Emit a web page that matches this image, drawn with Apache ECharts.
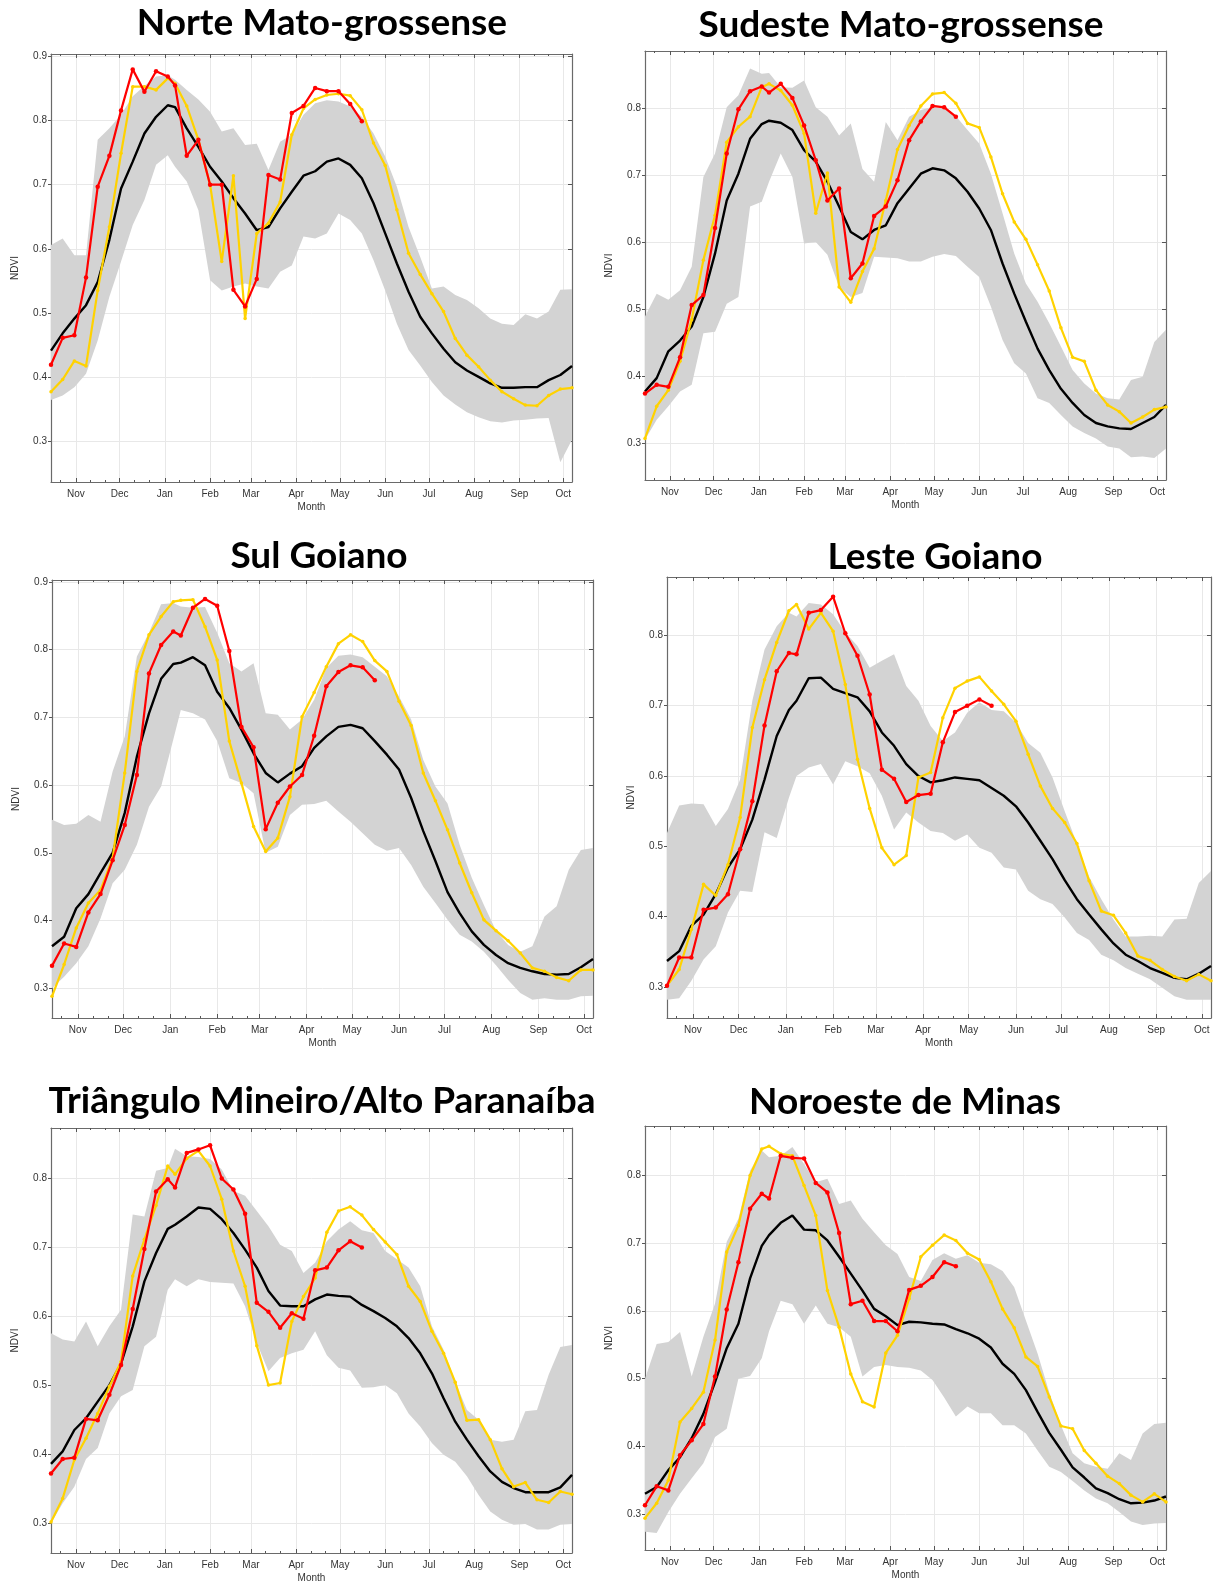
<!DOCTYPE html>
<html><head><meta charset="utf-8">
<script src="https://cdn.jsdelivr.net/npm/echarts@6/dist/echarts.min.js"></script>
<style>html,body{margin:0;padding:0;background:#fff}#c{width:1213px;height:1588px}</style>
</head><body><div id="c"></div>
<script>
// x positions: days since Oct 1
const days = [14,22,30,38,46,54,62,70,78,86,94,99,107,115,123,131,139,147,155,163,171,179,187,195,203,211,219,227,235,243,251,259,267,275,283,291,299,307,315,323,331,339,347,355,363,371];
const monthTicks = [31,61,92,123,151,182,212,243,273,304,335,365];
const monthNames = ['Nov','Dec','Jan','Feb','Mar','Apr','May','Jun','Jul','Aug','Sep','Oct'];
// minor ticks: 11th and 21st of each month
const minorTicks = [20,41,51,71,81,102,112,133,143,161,171,192,202,222,232,253,263,283,293,314,324,345,355];
const titles = ['Norte Mato-grossense','Sudeste Mato-grossense','Sul Goiano','Leste Goiano','Triângulo Mineiro/Alto Paranaíba','Noroeste de Minas'];
const yTicks9 = [0.3,0.4,0.5,0.6,0.7,0.8,0.9];
const yTicks8 = [0.3,0.4,0.5,0.6,0.7,0.8];

const p1Upper = [0.606,0.616,0.590,0.590,0.770,0.788,0.809,0.838,0.854,0.869,0.871,0.864,0.848,0.833,0.814,0.783,0.788,0.762,0.764,0.723,0.767,0.778,0.809,0.827,0.832,0.830,0.822,0.806,0.780,0.744,0.697,0.634,0.587,0.538,0.541,0.528,0.520,0.507,0.491,0.483,0.481,0.498,0.491,0.502,0.536,0.537];
const p1Lower = [0.364,0.371,0.384,0.405,0.457,0.525,0.580,0.637,0.676,0.731,0.746,0.728,0.705,0.660,0.551,0.535,0.541,0.546,0.541,0.538,0.564,0.574,0.619,0.616,0.624,0.655,0.645,0.624,0.582,0.535,0.483,0.442,0.418,0.392,0.371,0.357,0.345,0.337,0.331,0.329,0.332,0.333,0.335,0.336,0.267,0.302];
const p1Mean = [0.441,0.468,0.491,0.512,0.548,0.614,0.694,0.736,0.780,0.806,0.824,0.821,0.788,0.759,0.728,0.705,0.679,0.655,0.629,0.634,0.663,0.689,0.714,0.721,0.736,0.741,0.731,0.710,0.671,0.624,0.577,0.533,0.494,0.468,0.444,0.423,0.410,0.400,0.390,0.383,0.383,0.384,0.384,0.395,0.403,0.417];
const p1Yellow = [0.377,0.396,0.425,0.417,0.535,0.634,0.749,0.853,0.853,0.848,0.866,0.858,0.823,0.770,0.700,0.580,0.714,0.491,0.624,0.640,0.673,0.778,0.819,0.833,0.840,0.842,0.839,0.817,0.765,0.730,0.661,0.593,0.560,0.530,0.502,0.460,0.434,0.416,0.395,0.377,0.366,0.356,0.355,0.371,0.381,0.383];
const p1Red = [0.419,0.461,0.465,0.555,0.697,0.745,0.816,0.880,0.845,0.877,0.869,0.855,0.745,0.770,0.700,0.700,0.536,0.510,0.553,0.715,0.708,0.812,0.823,0.851,0.846,0.846,0.826,0.799];

const p2Upper = [0.489,0.523,0.514,0.528,0.563,0.697,0.732,0.801,0.819,0.859,0.851,0.852,0.831,0.830,0.841,0.801,0.787,0.759,0.777,0.709,0.690,0.779,0.752,0.787,0.797,0.802,0.799,0.788,0.767,0.747,0.702,0.643,0.583,0.538,0.511,0.479,0.444,0.409,0.389,0.374,0.367,0.365,0.394,0.399,0.451,0.469];
const p2Lower = [0.305,0.335,0.355,0.377,0.387,0.464,0.466,0.508,0.518,0.653,0.660,0.690,0.732,0.697,0.598,0.600,0.581,0.533,0.518,0.524,0.578,0.577,0.576,0.571,0.571,0.578,0.582,0.579,0.563,0.548,0.504,0.454,0.419,0.404,0.367,0.360,0.342,0.325,0.315,0.307,0.295,0.292,0.279,0.280,0.278,0.292];
const p2Mean = [0.377,0.397,0.437,0.453,0.474,0.518,0.583,0.662,0.702,0.754,0.776,0.781,0.778,0.767,0.737,0.720,0.690,0.653,0.615,0.604,0.618,0.625,0.658,0.680,0.702,0.710,0.707,0.695,0.675,0.650,0.618,0.568,0.523,0.481,0.441,0.409,0.381,0.360,0.342,0.330,0.325,0.322,0.321,0.330,0.339,0.357];
const p2Yellow = [0.307,0.355,0.379,0.422,0.484,0.573,0.640,0.749,0.772,0.787,0.831,0.836,0.826,0.804,0.762,0.643,0.703,0.533,0.510,0.556,0.590,0.662,0.738,0.774,0.803,0.821,0.823,0.807,0.777,0.771,0.727,0.672,0.630,0.604,0.566,0.527,0.472,0.428,0.422,0.379,0.357,0.347,0.330,0.339,0.350,0.354];
const p2Red = [0.374,0.387,0.384,0.428,0.506,0.521,0.621,0.732,0.798,0.825,0.832,0.823,0.836,0.815,0.774,0.722,0.662,0.680,0.546,0.568,0.639,0.653,0.692,0.752,0.780,0.803,0.801,0.787];

const p3Upper = [0.549,0.541,0.543,0.556,0.546,0.620,0.672,0.790,0.825,0.867,0.869,0.864,0.862,0.863,0.825,0.780,0.768,0.780,0.706,0.704,0.682,0.697,0.726,0.773,0.791,0.793,0.789,0.775,0.761,0.731,0.697,0.637,0.598,0.573,0.512,0.463,0.423,0.385,0.364,0.354,0.362,0.406,0.421,0.475,0.504,0.507];
const p3Lower = [0.300,0.317,0.337,0.362,0.403,0.455,0.475,0.512,0.568,0.598,0.667,0.711,0.706,0.697,0.665,0.610,0.603,0.588,0.500,0.509,0.556,0.571,0.572,0.577,0.561,0.546,0.529,0.512,0.503,0.507,0.482,0.450,0.426,0.401,0.379,0.369,0.354,0.334,0.312,0.293,0.283,0.285,0.283,0.283,0.288,0.289];
const p3Mean = [0.362,0.376,0.418,0.439,0.470,0.500,0.559,0.642,0.706,0.757,0.779,0.781,0.789,0.777,0.738,0.714,0.682,0.647,0.618,0.604,0.617,0.628,0.655,0.672,0.686,0.689,0.684,0.665,0.645,0.623,0.581,0.532,0.488,0.442,0.411,0.384,0.364,0.349,0.337,0.330,0.325,0.321,0.320,0.321,0.331,0.343];
const p3Yellow = [0.288,0.335,0.389,0.426,0.445,0.492,0.618,0.768,0.822,0.849,0.871,0.873,0.874,0.834,0.785,0.665,0.603,0.539,0.502,0.522,0.583,0.701,0.737,0.775,0.809,0.822,0.812,0.784,0.768,0.724,0.688,0.618,0.577,0.534,0.485,0.441,0.401,0.385,0.370,0.352,0.330,0.325,0.316,0.311,0.327,0.327];
const p3Red = [0.333,0.366,0.361,0.412,0.439,0.489,0.541,0.615,0.765,0.807,0.827,0.821,0.862,0.875,0.865,0.798,0.686,0.656,0.535,0.574,0.598,0.615,0.673,0.746,0.767,0.777,0.774,0.755];

const p4Upper = [0.519,0.558,0.561,0.560,0.529,0.553,0.595,0.707,0.780,0.813,0.832,0.827,0.846,0.844,0.830,0.804,0.785,0.754,0.764,0.773,0.728,0.707,0.671,0.650,0.662,0.690,0.705,0.694,0.692,0.676,0.647,0.633,0.598,0.550,0.504,0.457,0.425,0.396,0.372,0.372,0.373,0.372,0.396,0.397,0.448,0.465];
const p4Lower = [0.282,0.284,0.309,0.339,0.358,0.406,0.437,0.435,0.520,0.512,0.569,0.600,0.612,0.617,0.588,0.621,0.614,0.604,0.572,0.524,0.548,0.534,0.522,0.519,0.508,0.517,0.498,0.491,0.470,0.467,0.437,0.425,0.418,0.399,0.377,0.367,0.346,0.338,0.327,0.319,0.311,0.299,0.287,0.282,0.282,0.282];
const p4Mean = [0.337,0.351,0.387,0.403,0.432,0.470,0.496,0.538,0.595,0.657,0.694,0.707,0.739,0.740,0.724,0.718,0.712,0.692,0.662,0.643,0.617,0.600,0.591,0.594,0.598,0.596,0.594,0.583,0.572,0.557,0.534,0.508,0.482,0.452,0.425,0.403,0.382,0.362,0.346,0.337,0.327,0.320,0.313,0.311,0.319,0.330];
const p4Yellow = [0.302,0.325,0.382,0.446,0.430,0.474,0.541,0.669,0.737,0.790,0.835,0.844,0.809,0.832,0.806,0.730,0.624,0.554,0.498,0.474,0.487,0.598,0.605,0.683,0.725,0.735,0.741,0.721,0.702,0.678,0.631,0.586,0.554,0.534,0.504,0.451,0.408,0.402,0.377,0.344,0.338,0.325,0.315,0.309,0.318,0.309];
const p4Red = [0.302,0.342,0.342,0.410,0.413,0.432,0.496,0.564,0.672,0.749,0.775,0.773,0.832,0.836,0.855,0.803,0.771,0.716,0.609,0.596,0.563,0.573,0.575,0.648,0.691,0.700,0.709,0.700];

const p5Upper = [0.575,0.566,0.563,0.592,0.556,0.585,0.609,0.747,0.744,0.810,0.814,0.842,0.831,0.830,0.827,0.812,0.781,0.774,0.752,0.730,0.703,0.694,0.662,0.677,0.708,0.725,0.737,0.724,0.720,0.694,0.682,0.670,0.643,0.585,0.551,0.505,0.464,0.450,0.421,0.418,0.421,0.462,0.464,0.515,0.555,0.558];
const p5Lower = [0.300,0.329,0.353,0.393,0.409,0.459,0.484,0.493,0.556,0.570,0.638,0.653,0.643,0.653,0.649,0.648,0.647,0.614,0.561,0.520,0.539,0.546,0.551,0.578,0.543,0.525,0.521,0.496,0.497,0.500,0.488,0.459,0.440,0.416,0.399,0.389,0.368,0.341,0.317,0.305,0.298,0.299,0.291,0.291,0.298,0.299];
const p5Mean = [0.386,0.404,0.435,0.452,0.476,0.500,0.531,0.585,0.650,0.691,0.726,0.732,0.744,0.757,0.755,0.740,0.720,0.696,0.670,0.636,0.615,0.614,0.614,0.624,0.631,0.629,0.628,0.616,0.607,0.597,0.585,0.568,0.546,0.517,0.481,0.447,0.421,0.397,0.375,0.360,0.351,0.345,0.345,0.345,0.352,0.370];
const p5Yellow = [0.302,0.336,0.392,0.423,0.459,0.498,0.534,0.658,0.711,0.760,0.817,0.805,0.828,0.839,0.817,0.769,0.694,0.643,0.557,0.500,0.503,0.592,0.628,0.655,0.721,0.752,0.758,0.746,0.725,0.707,0.689,0.643,0.621,0.578,0.546,0.504,0.449,0.450,0.421,0.379,0.353,0.359,0.334,0.330,0.346,0.342];
const p5Red = [0.372,0.393,0.395,0.451,0.449,0.486,0.529,0.610,0.697,0.780,0.798,0.786,0.836,0.841,0.847,0.799,0.783,0.748,0.619,0.606,0.583,0.604,0.596,0.666,0.670,0.695,0.708,0.699];

const p6Upper = [0.500,0.551,0.554,0.569,0.503,0.562,0.611,0.702,0.736,0.807,0.837,0.827,0.829,0.842,0.817,0.790,0.795,0.758,0.763,0.736,0.716,0.697,0.684,0.650,0.644,0.675,0.685,0.677,0.682,0.671,0.669,0.659,0.635,0.586,0.537,0.480,0.431,0.390,0.375,0.370,0.367,0.390,0.380,0.419,0.433,0.435];
const p6Lower = [0.274,0.272,0.303,0.330,0.353,0.375,0.414,0.426,0.500,0.504,0.530,0.570,0.615,0.610,0.581,0.608,0.581,0.576,0.562,0.503,0.517,0.520,0.517,0.516,0.512,0.498,0.472,0.444,0.459,0.449,0.449,0.431,0.431,0.419,0.394,0.370,0.362,0.349,0.335,0.323,0.316,0.303,0.289,0.284,0.286,0.287];
const p6Mean = [0.330,0.340,0.365,0.384,0.412,0.448,0.495,0.545,0.581,0.648,0.696,0.712,0.730,0.741,0.720,0.719,0.704,0.680,0.655,0.630,0.603,0.592,0.579,0.584,0.583,0.581,0.580,0.573,0.567,0.559,0.546,0.522,0.507,0.483,0.451,0.420,0.395,0.369,0.354,0.338,0.331,0.322,0.316,0.317,0.320,0.326];
const p6Yellow = [0.294,0.316,0.350,0.436,0.456,0.480,0.557,0.687,0.726,0.800,0.839,0.843,0.832,0.829,0.785,0.741,0.630,0.576,0.507,0.466,0.458,0.538,0.564,0.618,0.680,0.697,0.712,0.704,0.685,0.676,0.643,0.603,0.575,0.532,0.518,0.473,0.430,0.426,0.394,0.375,0.356,0.345,0.328,0.318,0.330,0.318];
const p6Red = [0.313,0.341,0.335,0.387,0.409,0.433,0.503,0.602,0.672,0.751,0.773,0.766,0.829,0.826,0.825,0.789,0.775,0.715,0.610,0.615,0.585,0.585,0.570,0.631,0.637,0.650,0.672,0.666];

const panels = [
  {up:p1Upper, lo:p1Lower, mean:p1Mean, yel:p1Yellow, red:p1Red, yt:yTicks9, ymin:0.236, ymax:0.904, g:{left:51, top:54, width:521, height:428}, tx:322, ty:23},
  {up:p2Upper, lo:p2Lower, mean:p2Mean, yel:p2Yellow, red:p2Red, yt:yTicks8, ymin:0.245, ymax:0.885, g:{left:645, top:51, width:521, height:429}, tx:901, ty:25},
  {up:p3Upper, lo:p3Lower, mean:p3Mean, yel:p3Yellow, red:p3Red, yt:yTicks9, ymin:0.256, ymax:0.903, g:{left:52, top:580, width:541, height:438}, tx:319, ty:556},
  {up:p4Upper, lo:p4Lower, mean:p4Mean, yel:p4Yellow, red:p4Red, yt:yTicks8, ymin:0.256, ymax:0.883, g:{left:667, top:577, width:544, height:441}, tx:935, ty:557},
  {up:p5Upper, lo:p5Lower, mean:p5Mean, yel:p5Yellow, red:p5Red, yt:yTicks8, ymin:0.257, ymax:0.872, g:{left:51, top:1128, width:521, height:425}, tx:322, ty:1101},
  {up:p6Upper, lo:p6Lower, mean:p6Mean, yel:p6Yellow, red:p6Red, yt:yTicks8, ymin:0.247, ymax:0.873, g:{left:645, top:1126, width:521, height:424}, tx:905, ty:1102}
];

const XMIN = 14, XMAX = 371;
const AX = '#6a6a6a', TK = '#555', LBL = '#333', GRIDC = '#e8e8e8';
const FONT = 'Liberation Sans, Arial, sans-serif';
const grids = [], xAxes = [], yAxes = [], series = [], graphics = [];
const pair = arr => arr.map((v,k)=>[days[k], v]);

function renderBand(params, api) {
  if (params.dataIndexInside !== 0) return null;
  const n = params.dataInsideLength;
  const top = [], bot = [];
  for (let j = 0; j < n; j++) {
    const x = api.value(0, j);
    top.push(api.coord([x, api.value(2, j)]));
    bot.push(api.coord([x, api.value(1, j)]));
  }
  return {type:'polygon', shape:{points:top.concat(bot.reverse())}, style:{fill:'#d3d3d3', stroke:null}, silent:true};
}

panels.forEach((p,i)=>{
  grids.push(Object.assign({containLabel:false, outerBoundsMode:'none'}, p.g));
  const common = {gridIndex:i, type:'value', min:XMIN, max:XMAX};
  // bottom major: labels, month ticks, vertical grid lines
  xAxes.push(Object.assign({}, common, {
    position:'bottom',
    axisLine:{show:true, onZero:false, lineStyle:{color:AX, width:1.2}},
    axisTick:{show:true, inside:true, length:4, customValues:monthTicks, lineStyle:{color:TK}},
    axisLabel:{show:true, customValues:monthTicks, margin:7, fontSize:10, color:LBL, fontFamily:FONT,
      formatter:v=>{const k=monthTicks.indexOf(v); return k>=0?monthNames[k]:'';}},
    splitLine:{show:true, lineStyle:{color:GRIDC, width:1}},
    name:'Month', nameLocation:'middle', nameGap:20,
    nameTextStyle:{fontSize:10, color:LBL, fontFamily:FONT}
  }));
  // bottom minor ticks
  xAxes.push(Object.assign({}, common, {
    position:'bottom',
    axisLine:{show:false, onZero:false},
    axisTick:{show:true, inside:true, length:2, customValues:minorTicks, lineStyle:{color:TK}},
    axisLabel:{show:false}, splitLine:{show:false}
  }));
  // top major
  xAxes.push(Object.assign({}, common, {
    position:'top',
    axisLine:{show:true, onZero:false, lineStyle:{color:AX, width:1.2}},
    axisTick:{show:true, inside:true, length:4, customValues:monthTicks, lineStyle:{color:TK}},
    axisLabel:{show:false}, splitLine:{show:false}
  }));
  // top minor
  xAxes.push(Object.assign({}, common, {
    position:'top',
    axisLine:{show:false, onZero:false},
    axisTick:{show:true, inside:true, length:2, customValues:minorTicks, lineStyle:{color:TK}},
    axisLabel:{show:false}, splitLine:{show:false}
  }));
  const yc = {gridIndex:i, type:'value', min:p.ymin, max:p.ymax};
  yAxes.push(Object.assign({}, yc, {
    position:'left',
    axisLine:{show:true, onZero:false, lineStyle:{color:AX, width:1.2}},
    axisTick:{show:true, inside:false, length:3, customValues:p.yt, lineStyle:{color:TK}},
    axisLabel:{customValues:p.yt, margin:4, fontSize:10, color:LBL, fontFamily:FONT, formatter:v=>v.toFixed(1)},
    splitLine:{show:true, lineStyle:{color:GRIDC, width:1}},
    name:'NDVI', nameLocation:'middle', nameGap:31, nameRotate:90,
    nameTextStyle:{fontSize:10, color:LBL, fontFamily:FONT}
  }));
  yAxes.push(Object.assign({}, yc, {
    position:'right',
    axisLine:{show:true, onZero:false, lineStyle:{color:AX, width:1.2}},
    axisTick:{show:true, inside:true, length:4, customValues:p.yt, lineStyle:{color:TK}},
    axisLabel:{show:false}, splitLine:{show:false}
  }));
  const xi = 4*i, yi = 2*i;
  series.push({type:'custom', xAxisIndex:xi, yAxisIndex:yi, renderItem:renderBand, clip:true,
    data:days.map((d,k)=>[d, p.lo[k], p.up[k]]), encode:{x:0, y:[1,2]}, silent:true, z:1});
  series.push({type:'line', xAxisIndex:xi, yAxisIndex:yi, data:pair(p.mean),
    symbol:'none', lineStyle:{color:'#000', width:2.4}, z:3});
  series.push({type:'line', xAxisIndex:xi, yAxisIndex:yi, data:pair(p.yel),
    symbol:'circle', symbolSize:3.5, showAllSymbol:true, itemStyle:{color:'#FFD200'}, lineStyle:{color:'#FFD200', width:2.2}, z:4});
  series.push({type:'line', xAxisIndex:xi, yAxisIndex:yi, data:pair(p.red),
    symbol:'circle', symbolSize:4.5, showAllSymbol:true, itemStyle:{color:'#FF0000'}, lineStyle:{color:'#FF0000', width:2.2}, z:5});
  graphics.push({type:'text', x:p.tx, y:p.ty, z:10, style:{text:titles[i], fill:'#000',
    font:'bold 37px Lato, "Open Sans", sans-serif', align:'center', verticalAlign:'middle'}});
});

const chart = echarts.init(document.getElementById('c'), null, {renderer:'canvas'});
chart.setOption({
  animation:false,
  backgroundColor:'#fff',
  grid:grids, xAxis:xAxes, yAxis:yAxes, series:series, graphic:graphics
});
</script></body></html>
